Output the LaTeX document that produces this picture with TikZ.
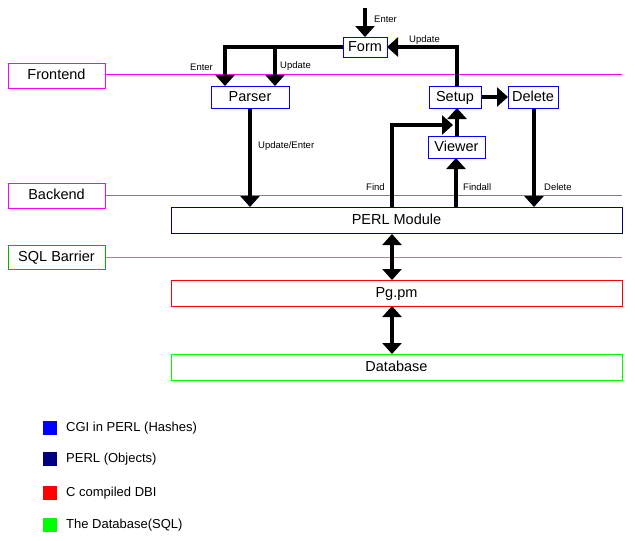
\documentclass[tikz,border=0pt]{standalone}
\usepackage{fontspec}
\setmainfont{Liberation Sans}
\usetikzlibrary{arrows.meta}
\definecolor{navy}{RGB}{0,0,128}
\definecolor{mag}{RGB}{255,0,255}
\definecolor{grn}{RGB}{0,255,0}
\definecolor{blu}{RGB}{0,0,255}
\definecolor{rd}{RGB}{255,0,0}
\begin{document}
\begin{tikzpicture}[x=1pt,y=-1pt,
  box/.style={draw=#1,line width=1pt,fill=white,inner sep=0pt,text height=10pt,text depth=2pt,font=\fontsize{14.5}{15}\selectfont},
  lbl/.style={font=\fontsize{9.5}{10}\selectfont,anchor=west,inner sep=0pt},
  arr/.style={line width=4.5pt,-{Triangle[width=19pt,length=11pt]}},
  darr/.style={line width=4.5pt,{Triangle[width=19pt,length=11pt]}-{Triangle[width=19pt,length=11pt]}},
  leg/.style={fill=#1,minimum size=14pt,inner sep=0pt},
  legt/.style={font=\fontsize{13}{14}\selectfont,anchor=west,inner sep=0pt}]
\useasboundingbox[fill=white] (0,0) rectangle (635,541);
% layer lines
\draw[mag,line width=0.8pt] (105,74) -- (622,74);
\draw[gray,line width=0.8pt] (105,195) -- (622,195);
\draw[gray!80!magenta,line width=0.8pt] (105,257) -- (622,257);
\node[box=mag,minimum width=97pt,minimum height=25pt] (fe) at (56.5,75.5) {Frontend};
\node[box=mag,minimum width=97pt,minimum height=25pt] (be) at (56.5,195.5) {Backend};
\node[box=grn!70!black,minimum width=97pt,minimum height=24pt] (sql) at (56.5,257) {SQL Barrier};
% arrows drawn first so boxes cover their ends
\coordinate (top) at (365,8);
\draw[arr] (top) -- (365,37);
\node[lbl] at (374,19) {Enter};
\draw[line width=4.5pt] (343,47) -- (223,47);
\draw[arr] (225,45) -- (225,86);
\draw[arr] (275,47) -- (275,86);
\node[lbl] at (190,67) {Enter};
\node[lbl] at (280,66) {Update};
\draw[arr] (457,86) -- (457,47) -- (387,47);
\node[lbl] at (409,40) {Update};
\draw[arr] (481,97) -- (508,97);
\draw[arr] (250,108) -- (250,207);
\node[lbl] at (258,146) {Update/Enter};
\draw[arr] (392,207) -- (392,125) -- (453,125);
\node[lbl] at (366,187) {Find};
\draw[arr] (457,136) -- (457,108);
\draw[arr] (456,207) -- (456,158);
\node[lbl] at (463,187) {Findall};
\draw[arr] (534,108) -- (534,207);
\node[lbl] at (544,187) {Delete};
\draw[darr] (392,234) -- (392,280);
\draw[darr] (392,306) -- (392,354);
% boxes
\node[box=blu,minimum width=44pt,minimum height=20pt] (form) at (365,47) {Form};
\node[box=blu,minimum width=78pt,minimum height=22pt] (parser) at (250,97) {Parser};
\node[box=blu,minimum width=52pt,minimum height=22pt] (setup) at (455,97) {Setup};
\node[box=blu,minimum width=50pt,minimum height=22pt] (delete) at (533,97) {Delete};
\node[box=blu,minimum width=57pt,minimum height=22pt] (viewer) at (456.5,147) {Viewer};
\node[box=navy,minimum width=451pt,minimum height=26pt] (perl) at (396.5,220) {PERL Module};
\node[box=rd,minimum width=451pt,minimum height=26pt] (pg) at (396.5,293) {Pg.pm};
\node[box=grn,minimum width=451pt,minimum height=26pt] (db) at (396.5,367) {Database};
% legend
\node[leg=blu] (l1) at (50,428) {};
\node[legt] at (66,428) {CGI in PERL (Hashes)};
\node[leg=navy] (l2) at (50,459) {};
\node[legt] at (66,459) {PERL (Objects)};
\node[leg=rd] (l3) at (50,493) {};
\node[legt] at (66,493) {C compiled DBI};
\node[leg=grn] (l4) at (50,525) {};
\node[legt] at (66,525) {The Database(SQL)};
\end{tikzpicture}
\end{document}
